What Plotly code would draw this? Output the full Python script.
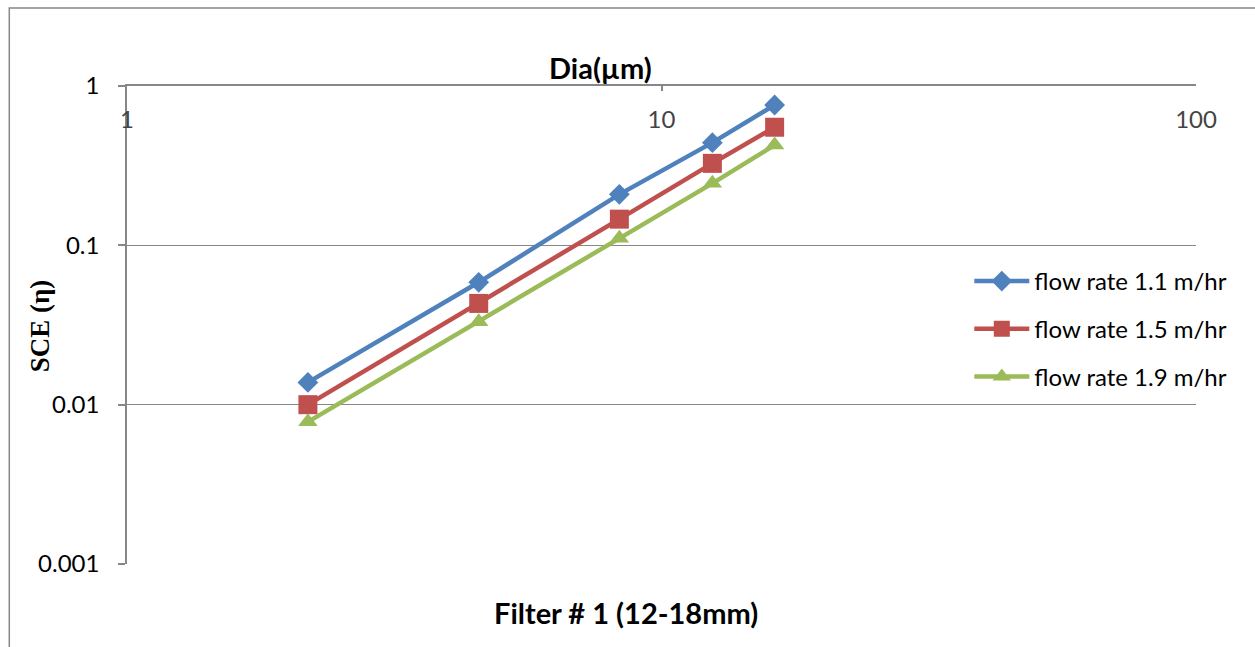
import plotly.graph_objects as go

dia = [2.18, 4.55, 8.34, 12.45, 16.28]
sce_11 = [0.0138, 0.0586, 0.209, 0.441, 0.760]
sce_15 = [0.0100, 0.0432, 0.146, 0.327, 0.551]
sce_19 = [0.0078, 0.0331, 0.1106, 0.245, 0.426]
series_names = ["flow rate 1.1 m/hr", "flow rate 1.5 m/hr", "flow rate 1.9 m/hr"]
colors = ["#4F81BD", "#C0504D", "#9BBB59"]
symbols = ["diamond", "square", "triangle-up"]
x_ticks = [1, 10, 100]
x_tick_text = ["1", "10", "100"]
y_ticks = [0.001, 0.01, 0.1, 1]
y_tick_text = ["0.001", "0.01", "0.1", "1"]

W, H = 1255, 647
L, R, T, B = 126.7, 1195.7, 86, 564

fig = go.Figure()
sizes = [16, 19, 17]
for i, (name, ys) in enumerate(zip(series_names, [sce_11, sce_15, sce_19])):
    fig.add_trace(go.Scatter(
        x=dia, y=ys, name=name, mode="lines+markers",
        line=dict(color=colors[i], width=4.5),
        marker=dict(symbol=symbols[i], size=sizes[i], color=colors[i]),
        legendgroup=f"g{i}", cliponaxis=False,
    ))

font_main = "Lato, 'Open Sans', sans-serif"
fig.update_layout(
    width=W, height=H,
    margin=dict(l=L, r=W - R, t=T, b=H - B),
    paper_bgcolor="white", plot_bgcolor="white",
    font=dict(family=font_main, size=24, color="black"),
    showlegend=True,
    legend=dict(x=(969 - L) / (R - L), y=(564 - 259) / (B - T), xanchor="left", yanchor="top",
                font=dict(size=24, family=font_main), traceorder="grouped",
                tracegroupgap=13.5, itemwidth=55, bgcolor="rgba(0,0,0,0)"),
    xaxis=dict(type="log", range=[0, 2], side="top", tickvals=x_ticks, ticktext=x_tick_text,
               showgrid=False, zeroline=False, showline=True, linecolor="#878787", linewidth=1.5,
               ticks="inside", ticklen=5, tickcolor="#878787", tickwidth=1.5,
               ticklabelposition="inside", ticklabeloverflow="allow", ticklabelstandoff=22,
               tickfont=dict(size=24, family=font_main)),
    yaxis=dict(type="log", range=[-3, 0], tickvals=y_ticks, ticktext=y_tick_text,
               showgrid=True, gridcolor="#878787", gridwidth=1.3, zeroline=False,
               showline=True, linecolor="#878787", linewidth=1.5,
               ticks="outside", ticklen=7, tickcolor="#878787", tickwidth=1.5,
               ticklabeloverflow="allow",
               ticklabelstandoff=14, tickfont=dict(size=24, family=font_main)),
)

def px_x(p):
    return (p - L) / (R - L)

def px_y(p):
    return (B - p) / (B - T)

fig.add_annotation(text="<b>Dia(µm)</b>", x=px_x(600), y=px_y(68), xref="paper", yref="paper",
                   xanchor="center", yanchor="middle",
                   showarrow=False, font=dict(size=29, family=font_main))
fig.add_annotation(text="<b>Filter # 1 (12-18mm)</b>", x=px_x(626), y=px_y(612), xref="paper", yref="paper",
                   xanchor="center", yanchor="middle",
                   showarrow=False, font=dict(size=29, family=font_main))
fig.add_annotation(text="<b>SCE (η)</b>", x=px_x(40), y=px_y(326), xref="paper", yref="paper",
                   xanchor="center", yanchor="middle",
                   showarrow=False, textangle=-90,
                   font=dict(size=27, family="'Liberation Serif', 'Times New Roman', serif"))

fig.add_shape(type="rect", xref="paper", yref="paper",
              x0=px_x(9), x1=px_x(1262), y0=px_y(660), y1=px_y(8),
              line=dict(color="#878787", width=1.5), fillcolor="rgba(0,0,0,0)", layer="below")

fig.write_html("out.html")
